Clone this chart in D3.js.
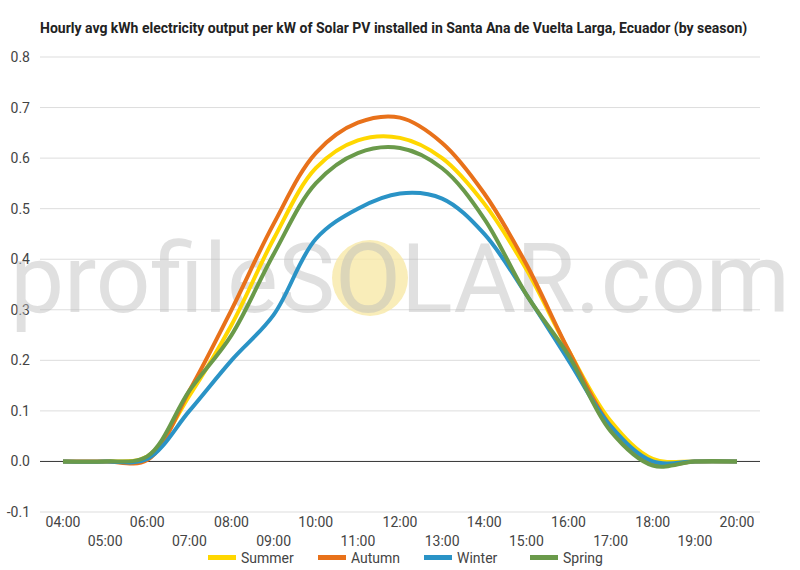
<!DOCTYPE html>
<html><head><meta charset="utf-8">
<script src="https://cdn.jsdelivr.net/npm/d3@7"></script>
<style>body{margin:0;background:#fff;font-family:Roboto,sans-serif}</style>
</head><body><svg id="c" width="800" height="570"></svg>
<script>
const hours=["04:00","05:00","06:00","07:00","08:00","09:00","10:00","11:00","12:00","13:00","14:00","15:00","16:00","17:00","18:00","19:00","20:00"];
const summer=[0,0,0.01,0.13,0.27,0.44,0.58,0.635,0.64,0.6,0.51,0.38,0.22,0.08,0.005,0,0];
const autumn=[0,0,0.003,0.14,0.30,0.47,0.61,0.67,0.68,0.63,0.53,0.39,0.22,0.07,-0.005,0,0];
const winter=[0,0,0.005,0.1,0.2,0.29,0.44,0.5,0.53,0.52,0.45,0.33,0.2,0.07,0,0,0];
const spring=[0,0,0.01,0.14,0.25,0.41,0.55,0.61,0.62,0.58,0.48,0.33,0.21,0.06,-0.008,0,0];
const names=["Summer","Autumn","Winter","Spring"];
const colors=["#ffd700","#e8711a","#2a93c6","#6a9a4a"];
const series=[summer,autumn,winter,spring];
const yTicks=[-0.1,0,0.1,0.2,0.3,0.4,0.5,0.6,0.7,0.8];

const svg=d3.select("#c");
const x=d3.scaleLinear().domain([0,16]).range([63,737]);
const y=d3.scaleLinear().domain([-0.1,0.8]).range([512,57]);

svg.append("text").attr("x",40).attr("y",33).attr("font-size",14).attr("font-weight","bold").attr("fill","#222")
 .text("Hourly avg kWh electricity output per kW of Solar PV installed in Santa Ana de Vuelta Larga, Ecuador (by season)");

yTicks.forEach(t=>{
 svg.append("line").attr("x1",40).attr("x2",760).attr("y1",y(t)).attr("y2",y(t))
  .attr("stroke",t===0?"#333":"#ddd").attr("stroke-width",1);
 svg.append("text").attr("x",30).attr("y",y(t)+5).attr("text-anchor","end").attr("font-size",14).attr("fill","#444").text(t.toFixed(1));
});
hours.forEach((h,i)=>{
 svg.append("text").attr("x",x(i)).attr("y",i%2===0?527:546).attr("text-anchor","middle").attr("font-size",14).attr("fill","#444").text(h);
});

// watermark
svg.append("circle").attr("cx",370).attr("cy",278).attr("r",38).attr("fill","#f7e9a8").attr("opacity",0.8);
svg.append("text").attr("x",400).attr("y",312).attr("text-anchor","middle").attr("font-size",96).attr("fill","#bbb").attr("opacity",0.45).text("profileSOLAR.com");

const line=d3.line().x((d,i)=>x(i)).y(d=>y(d)).curve(d3.curveCatmullRom.alpha(0.5));
series.forEach((s,k)=>{
 svg.append("path").attr("d",line(s)).attr("fill","none").attr("stroke",colors[k]).attr("stroke-width",4).attr("stroke-linejoin","round");
});

const lx=[208,318,424,530];
names.forEach((n,k)=>{
 svg.append("rect").attr("x",lx[k]).attr("y",555).attr("width",28).attr("height",5).attr("fill",colors[k]);
 svg.append("text").attr("x",lx[k]+33).attr("y",563).attr("font-size",14).attr("fill","#444").text(n);
});
</script></body></html>
